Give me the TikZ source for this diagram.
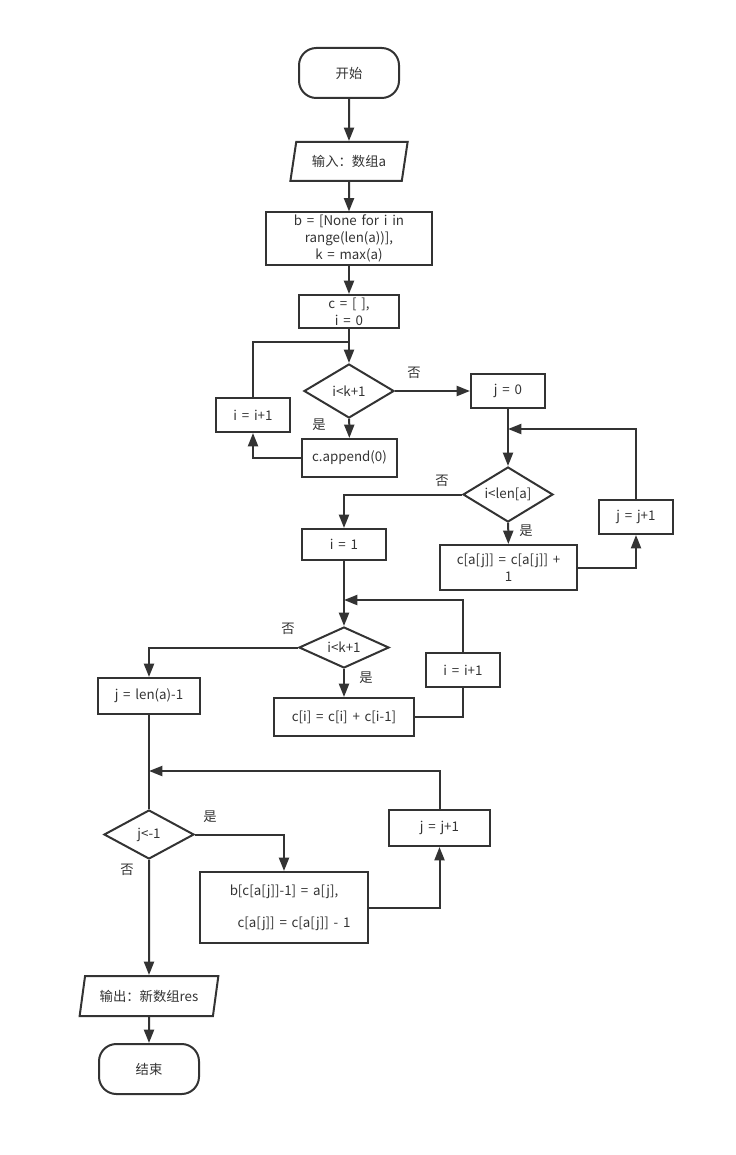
\documentclass[tikz,border=0pt]{standalone}
\usepackage{fontspec}
\setmainfont[WordSpace=1.6]{Noto Sans CJK SC}
\usetikzlibrary{arrows.meta,shapes.geometric}
\definecolor{ink}{HTML}{333333}

\begin{document}
\begin{tikzpicture}[
		x=0.75pt, y=-0.75pt,
		font=\fontsize{10}{12.5}\selectfont,
		>={Triangle[length=10pt,width=7.5pt]},
		sz/.style 2 args={minimum width=#1*0.75pt, minimum height=#2*0.75pt},
		base/.style={draw=ink, line width=1.5pt, text=ink, inner sep=2pt, align=center},
		terminal/.style={base, rectangle, rounded corners=13pt},
		io/.style={base, trapezium, trapezium left angle=76, trapezium right angle=104, trapezium stretches=true},
		proc/.style={base, rectangle},
		decision/.style={base, diamond, aspect=2, inner sep=0pt},
		flow/.style={->, draw=ink, line width=1.5pt},
		link/.style={draw=ink, line width=1.5pt},
		lab/.style={text=ink, inner sep=1pt}
	]
	
	% Page
	\useasboundingbox (0,0) rectangle (735,1155);
	
	% Main column
	\node[terminal, sz={100}{50}] (start) at (349,73) {开始};
	\node[io, sz={118}{39}] (input) at (349,161.5) {输入：数组a};
	\node[proc, sz={166}{51}] (init) at (349,238.5) {b = [None for i in\\range(len(a))],\\k = max(a)};
	\node[proc, sz={100}{33}] (initc) at (349,311.5) {c = [ ],\\i = 0};
	
	% First loop: counting array
	\node[decision, sz={90}{54}] (dec1) at (349,391) {i<k+1};
	\node[proc, sz={74}{34}] (inci1) at (253,415) {i = i+1};
	\node[proc, sz={95}{38}] (append) at (349.5,458) {c.append(0)};
	\coordinate (join1) at (349,342);
	
	% Second loop: count values
	\node[proc, sz={74}{34}] (jzero) at (508,391) {j = 0};
	\node[decision, sz={90}{55}] (dec2) at (508,494.5) {i<len[a]};
	\node[proc, sz={74}{34}] (incj1) at (636,517) {j = j+1};
	\node[proc, sz={137}{45}] (count) at (508.5,567.5) {c[a[j]] = c[a[j]] +\\1};
	\coordinate (join2) at (508,429);
	
	% Third loop: prefix sums
	\node[proc, sz={84}{31}] (ione) at (344,544.5) {i = 1};
	\node[decision, sz={90}{41}] (dec3) at (344,647.5) {i<k+1};
	\node[proc, sz={74}{34}] (inci2) at (463,670) {i = i+1};
	\node[proc, sz={140}{38}] (cumsum) at (344,717) {c[i] = c[i] + c[i-1]};
	\coordinate (join3) at (344,600);
	
	% Fourth loop: place values
	\node[proc, sz={102}{36}] (jlast) at (149,696) {j = len(a)-1};
	\node[decision, sz={90}{49}] (dec4) at (149,834.5) {j<-1};
	\node[proc, sz={101}{36}] (incj2) at (439.5,828) {j = j+1};
	\node[proc, sz={168}{71}] (place) at (284,907.5) {b[c[a[j]]-1] = a[j],\\[11.5pt]\hspace*{1.5em}c[a[j]] = c[a[j]] - 1};
	\coordinate (join4) at (149,771);
	
	% End
	\node[io, sz={139}{40}] (output) at (149,996) {输出：新数组res};
	\node[terminal, sz={100}{50}] (stop) at (149,1069) {结束};
	
	% Branch labels
	\node[lab] (no1) at (414,373) {否};
	\node[lab] (yes1) at (319,425) {是};
	\node[lab] (no2) at (442,481) {否};
	\node[lab] (yes2) at (526,531) {是};
	\node[lab] (no3) at (288,629) {否};
	\node[lab] (yes3) at (366,678) {是};
	\node[lab] (yes4) at (210,817) {是};
	\node[lab] (no4) at (127,870) {否};
	
	% Connectors
	\draw[flow] (start) -- (input);
	\draw[flow] (input) -- (init);
	\draw[flow] (init) -- (initc);
	\draw[flow] (initc) -- (dec1);
	\draw[flow] (dec1) -- (append);
	\draw[flow] (append.west) -| (inci1.south);
	\draw[link] (inci1.north) |- (join1);
	\draw[flow] (dec1.east) -- (jzero.west);
	
	\draw[flow] (jzero) -- (dec2);
	\draw[flow] (dec2) -- (count);
	\draw[flow] (count.east) -| (incj1.south);
	\draw[flow] (incj1.north) |- (join2);
	\draw[flow] (dec2.west) -| (ione.north);
	
	\draw[flow] (ione) -- (dec3);
	\draw[flow] (dec3) -- (cumsum);
	\draw[link] (cumsum.east) -| (inci2.south);
	\draw[flow] (inci2.north) |- (join3);
	\draw[flow] (dec3.west) -| (jlast.north);
	
	\draw[link] (jlast) -- (dec4);
	\draw[flow] (dec4.east) -| (place.north);
	\draw[flow] (place.east) -| (incj2.south);
	\draw[flow] (incj2.north) |- (join4);
	\draw[flow] (dec4) -- (output);
	\draw[flow] (output) -- (stop);
	
\end{tikzpicture}
\end{document}
